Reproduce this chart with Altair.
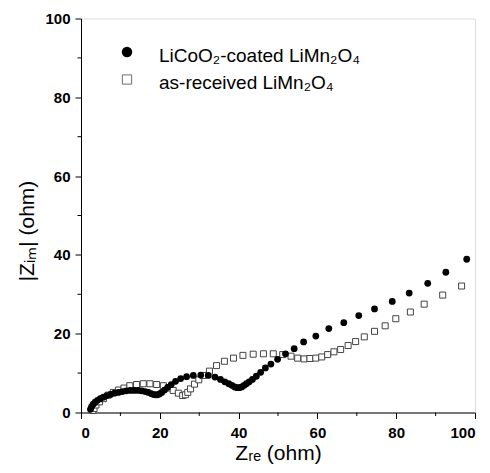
import altair as alt
import pandas as pd

# LiCoO2-coated LiMn2O4 (filled circles)
coated_x = [2.4, 2.7, 3.1, 3.6, 4.2, 4.9, 5.7, 6.6, 7.5, 8.5, 9.5, 10.5, 11.5, 12.5, 13.5, 14.5,
            15.4, 16.3, 17.1, 17.8, 18.4, 18.9, 19.4, 19.9, 20.5, 21.2, 22.0, 22.9, 24.0, 25.3,
            26.8, 28.5, 30.4, 32.3, 34.0, 35.4, 36.5, 37.5, 38.3, 39.0, 39.6, 40.2, 40.8, 41.4,
            42.0, 42.7, 43.5, 44.5, 45.6, 46.8, 48.2, 49.9, 51.9, 54.1, 56.5, 59.6, 62.9, 66.7,
            70.5, 74.5, 79.0, 83.3, 88.0, 92.6, 97.9]
coated_y = [0.8, 1.5, 2.1, 2.6, 3.1, 3.5, 3.9, 4.3, 4.6, 4.9, 5.1, 5.3, 5.5, 5.6, 5.6, 5.6,
            5.5, 5.3, 5.1, 4.8, 4.6, 4.5, 4.5, 4.7, 5.1, 5.7, 6.4, 7.1, 7.9, 8.6,
            9.1, 9.4, 9.5, 9.4, 9.0, 8.4, 7.8, 7.3, 6.9, 6.5, 6.3, 6.3, 6.5, 6.9,
            7.3, 7.8, 8.4, 9.2, 10.2, 11.3, 12.3, 13.5, 14.9, 16.2, 17.9, 19.4, 21.3, 22.8,
            24.6, 26.3, 28.2, 30.3, 32.8, 35.6, 38.9]

# as-received LiMn2O4 (open squares)
recv_x = [3.0, 3.3, 3.8, 4.7, 5.7, 6.9, 8.2, 9.5, 10.9, 12.4, 14.1, 15.8, 17.5, 19.2, 20.9,
          22.2, 23.4, 24.7, 25.8, 26.5, 27.1, 27.8, 28.8, 29.9, 31.0, 32.6, 34.4, 36.4, 38.7,
          41.1, 43.7, 46.3, 48.8, 51.2, 53.3, 55.0, 56.6, 58.1, 59.6, 61.1, 62.6, 64.2, 65.9,
          67.8, 69.7, 71.9, 74.5, 77.2, 79.9, 83.6, 87.1, 91.8, 96.6]
recv_y = [0.5, 1.0, 1.9, 2.7, 3.5, 4.4, 5.1, 5.7, 6.2, 6.8, 7.1, 7.3, 7.3, 7.1, 6.8,
          6.2, 5.6, 4.9, 4.3, 4.5, 5.1, 6.0, 7.2, 8.3, 9.4, 10.5, 11.9, 13.0, 13.8,
          14.5, 14.8, 14.9, 14.9, 14.7, 14.3, 13.8, 13.6, 13.7, 13.8, 14.1, 14.7, 15.4, 16.0,
          17.0, 18.0, 19.2, 20.6, 22.0, 23.8, 25.5, 27.5, 29.8, 32.1]

major_ticks = [0, 20, 40, 60, 80, 100]
minor_ticks = [10, 30, 50, 70, 90]

coated = pd.DataFrame({"zre": coated_x, "zim": coated_y})
recv = pd.DataFrame({"zre": recv_x, "zim": recv_y})
minor = pd.DataFrame({"v": minor_ticks})

W, H = 394, 394
FONT = "Liberation Sans"

xscale = alt.Scale(domain=[0, 100], nice=False, zero=False)
yscale = alt.Scale(domain=[0, 100], nice=False, zero=False)

xaxis = alt.Axis(values=major_ticks, tickSize=6, labelPadding=7, labelFontSize=15,
                 labelFontWeight="bold", labelFont=FONT, labelColor="black",
                 domainColor="black", tickColor="black", grid=False,
                 title="Zᵣₑ (ohm)", titleFont=FONT, titleFontSize=21, titleFontWeight="normal",
                 titleColor="black", titleBaseline="alphabetic", titleY=47, titleX=W / 2)
yaxis = alt.Axis(values=major_ticks, tickSize=6, labelPadding=5, labelFontSize=15,
                 labelFontWeight="bold", labelFont=FONT, labelColor="black",
                 domainColor="black", tickColor="black", grid=False,
                 title="|Zᵢₘ| (ohm)", titleFont=FONT, titleFontSize=21, titleFontWeight="normal",
                 titleColor="black", titleBaseline="alphabetic", titleX=-48, titleY=212)

squares = alt.Chart(recv).mark_point(shape="square", filled=False, size=36, stroke="#444",
                                     strokeWidth=1, fill="white", fillOpacity=1).encode(
    x=alt.X("zre:Q", scale=xscale, axis=xaxis),
    y=alt.Y("zim:Q", scale=yscale, axis=yaxis),
)
circles = alt.Chart(coated).mark_circle(size=46, color="black", opacity=1).encode(
    x=alt.X("zre:Q", scale=xscale),
    y=alt.Y("zim:Q", scale=yscale),
)

xminor = alt.Chart(minor).mark_rule(color="black", strokeWidth=1).encode(
    x=alt.X("v:Q", scale=xscale), y=alt.value(H), y2=alt.value(H + 3.5))
yminor = alt.Chart(minor).mark_rule(color="black", strokeWidth=1).encode(
    y=alt.Y("v:Q", scale=yscale), x=alt.value(0), x2=alt.value(-3.5))

leg = pd.DataFrame({"k": [0]})
leg_circle = alt.Chart(leg).mark_circle(size=110, color="black", opacity=1).encode(
    x=alt.value(46), y=alt.value(33.5))
leg_square = alt.Chart(leg).mark_point(shape="square", filled=False, size=85, stroke="#333",
                                       strokeWidth=1).encode(
    x=alt.value(46), y=alt.value(61))
leg_t1 = alt.Chart(leg).mark_text(text="LiCoO₂-coated LiMn₂O₄", align="left", baseline="alphabetic",
                                  font=FONT, fontSize=19, color="black").encode(
    x=alt.value(78), y=alt.value(43.5))
leg_t2 = alt.Chart(leg).mark_text(text="as-received LiMn₂O₄", align="left", baseline="alphabetic",
                                  font=FONT, fontSize=19, color="black").encode(
    x=alt.value(78), y=alt.value(70.8))

chart = alt.layer(squares, circles, xminor, yminor, leg_circle, leg_square, leg_t1, leg_t2).properties(
    width=W, height=H,
    autosize=alt.AutoSizeParams(type="none"),
    padding={"left": 73, "top": 10.5, "right": 3, "bottom": 52},
).configure_view(stroke="#333", strokeWidth=1).configure(background="white")

chart.save("out.html", embed_options={"renderer": "svg", "actions": False})
